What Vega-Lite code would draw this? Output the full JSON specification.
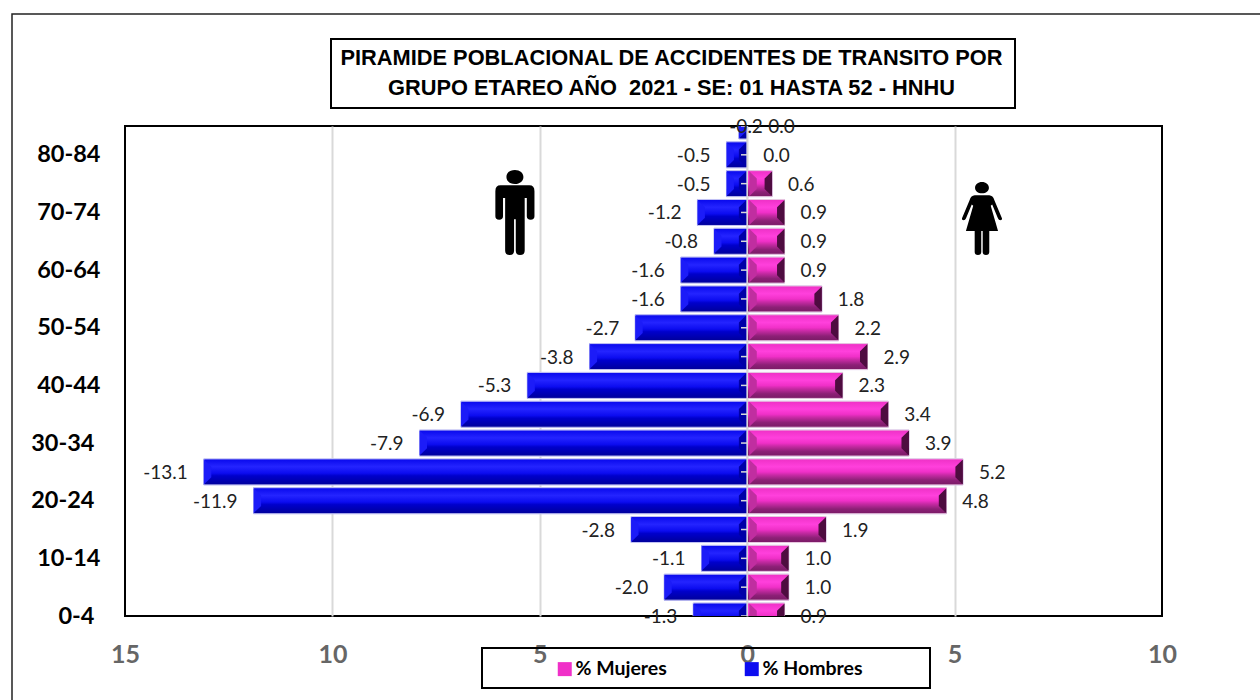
{
"$schema":"https://vega.github.io/schema/vega-lite/v6.json",
"width":1037,"height":490,
"autosize":{"type":"none"},
"padding":{"left":125,"top":126,"right":98,"bottom":84},
"background":"white",
"config":{"view":{"stroke":"#000","strokeWidth":2},"locale":{"number":{"decimal":".","thousands":",","grouping":[3],"currency":["$",""],"minus":"-"}}},
"title":{"text":["PIRAMIDE POBLACIONAL DE ACCIDENTES DE TRANSITO POR","GRUPO ETAREO AÑO \u00a02021 - SE: 01 HASTA 52 - HNHU"],"font":"Liberation Sans","fontSize":21.8,"fontWeight":"bold","color":"#000","anchor":"middle","dx":28,"offset":-87,"lineHeight":30},
"data":{"values":[
{"age":"0-4","sex":"% Hombres","value":-1.3},{"age":"0-4","sex":"% Mujeres","value":0.9},
{"age":"5-9","sex":"% Hombres","value":-2.0},{"age":"5-9","sex":"% Mujeres","value":1.0},
{"age":"10-14","sex":"% Hombres","value":-1.1},{"age":"10-14","sex":"% Mujeres","value":1.0},
{"age":"15-19","sex":"% Hombres","value":-2.8},{"age":"15-19","sex":"% Mujeres","value":1.9},
{"age":"20-24","sex":"% Hombres","value":-11.9},{"age":"20-24","sex":"% Mujeres","value":4.8},
{"age":"25-29","sex":"% Hombres","value":-13.1},{"age":"25-29","sex":"% Mujeres","value":5.2},
{"age":"30-34","sex":"% Hombres","value":-7.9},{"age":"30-34","sex":"% Mujeres","value":3.9},
{"age":"35-39","sex":"% Hombres","value":-6.9},{"age":"35-39","sex":"% Mujeres","value":3.4},
{"age":"40-44","sex":"% Hombres","value":-5.3},{"age":"40-44","sex":"% Mujeres","value":2.3},
{"age":"45-49","sex":"% Hombres","value":-3.8},{"age":"45-49","sex":"% Mujeres","value":2.9},
{"age":"50-54","sex":"% Hombres","value":-2.7},{"age":"50-54","sex":"% Mujeres","value":2.2},
{"age":"55-59","sex":"% Hombres","value":-1.6},{"age":"55-59","sex":"% Mujeres","value":1.8},
{"age":"60-64","sex":"% Hombres","value":-1.6},{"age":"60-64","sex":"% Mujeres","value":0.9},
{"age":"65-69","sex":"% Hombres","value":-0.8},{"age":"65-69","sex":"% Mujeres","value":0.9},
{"age":"70-74","sex":"% Hombres","value":-1.2},{"age":"70-74","sex":"% Mujeres","value":0.9},
{"age":"75-79","sex":"% Hombres","value":-0.5},{"age":"75-79","sex":"% Mujeres","value":0.6},
{"age":"80-84","sex":"% Hombres","value":-0.5},{"age":"80-84","sex":"% Mujeres","value":0.0},
{"age":"85+","sex":"% Hombres","value":-0.2},{"age":"85+","sex":"% Mujeres","value":0.0}
]},
"encoding":{
"y":{"field":"age","type":"ordinal","sort":null,
"scale":{"type":"point","padding":0,"reverse":true,"domain":["0-4","5-9","10-14","15-19","20-24","25-29","30-34","35-39","40-44","45-49","50-54","55-59","60-64","65-69","70-74","75-79","80-84","85+"]},
"axis":{"title":null,"domain":false,"ticks":false,"grid":false,"labelFont":"Lato","labelFontSize":23.5,"labelFontWeight":"bold","labelColor":"#000","labelPadding":25,"labelOverlap":false,
"labelExpr":"indexof(['0-4','10-14','20-24','30-34','40-44','50-54','60-64','70-74','80-84'],datum.value)>=0?datum.value:''",
"encoding":{"labels":{"dx":{"condition":{"test":"indexof(['0-4','20-24','30-34'],datum.value)>=0","value":-6},"value":0}}}}}
},
"layer":[
{"mark":{"type":"bar","size":26,"clip":true,"stroke":"#c4c4f4","strokeWidth":1},
"encoding":{
"x":{"field":"value","type":"quantitative","scale":{"domain":[-15,10],"nice":false,"zero":false},
"axis":{"title":null,"values":[-15,-10,-5,0,5,10],"domain":false,"ticks":false,"grid":true,"gridColor":"#d9d9d9","gridWidth":2,"gridOpacity":{"condition":{"test":"datum.value==-15||datum.value==10","value":0},"value":1},"labelFont":"Lato","labelFontSize":25,"labelFontWeight":"bold","labelColor":"#666666","labelPadding":26,"labelExpr":"abs(datum.value)","labelFlush":false}},
"x2":{"datum":0},
"color":{"field":"sex","type":"nominal","scale":{"domain":["% Mujeres","% Hombres"],"range":["#f030c8","#0c0cf0"]},
"legend":{"title":null,"orient":"none","legendX":430,"legendY":533,"direction":"horizontal","columns":2,"columnPadding":75,"symbolType":"square","symbolSize":196,"symbolStrokeWidth":0,"symbolOpacity":1,"labelOffset":1,"labelFont":"Lato","labelFontSize":19.5,"labelFontWeight":"bold","labelColor":"#000","padding":0}}
}},
{"transform":[{"filter":"datum.sex==='% Mujeres'"}],
"mark":{"type":"bar","size":26,"clip":true,"stroke":"#e8c8e0","strokeWidth":1,"color":{"gradient":"linear","x1":0,"y1":0,"x2":0,"y2":1,"stops":[{"offset":0,"color":"#ee30c6"},{"offset":0.3,"color":"#ff40dc"},{"offset":0.5,"color":"#f030c8"},{"offset":0.62,"color":"#c82aa5"},{"offset":0.82,"color":"#8c2076"},{"offset":1,"color":"#7a1a66"}]}},
"encoding":{"x":{"field":"value","type":"quantitative"},"x2":{"datum":0}}},
{"transform":[{"filter":"datum.sex==='% Hombres'"}],
"mark":{"type":"bar","size":26,"clip":true,"stroke":"#c4c4f4","strokeWidth":1,"color":{"gradient":"linear","x1":0,"y1":0,"x2":0,"y2":1,"stops":[{"offset":0,"color":"#0808ec"},{"offset":0.3,"color":"#2424ff"},{"offset":0.55,"color":"#0c0cf0"},{"offset":0.65,"color":"#0000cc"},{"offset":1,"color":"#00009a"}]}},
"encoding":{"x":{"field":"value","type":"quantitative"},"x2":{"datum":0}}},
{"transform":[{"filter":"datum.sex==='% Mujeres' && datum.value>0"}],
"mark":{"type":"point","clip":true,"filled":true,"opacity":1,"strokeWidth":0,"size":625,"color":"#4e0c40","shape":"M0 -1L-.6 -.42L-.6 .42L0 1Z"},
"encoding":{"x":{"field":"value","type":"quantitative"}}},
{"transform":[{"filter":"datum.sex==='% Mujeres' && datum.value>0"}],
"mark":{"type":"point","clip":true,"filled":true,"opacity":1,"strokeWidth":0,"size":625,"color":"#c02ea0","shape":"M0 -1L.6 -.42L.6 .42L0 1Z"},
"encoding":{"x":{"datum":0.05}}},
{"transform":[{"filter":"datum.sex==='% Hombres'"}],
"mark":{"type":"point","clip":true,"filled":true,"opacity":1,"strokeWidth":0,"size":625,"color":"#0000a8","shape":"M0 -1L-.6 -.42L-.6 .42L0 1Z"},
"encoding":{"x":{"datum":-0.02}}},
{"transform":[{"filter":"datum.sex==='% Hombres'"}],
"mark":{"type":"point","clip":true,"filled":true,"opacity":1,"strokeWidth":0,"size":625,"color":"#1c1cf8","shape":"M0 -1L.6 -.42L.6 .42L0 1Z"},
"encoding":{"x":{"field":"value","type":"quantitative"}}},
{"data":{"values":[{"eje":"cero"}]},"mark":{"type":"rule","color":"#d9d9d9","strokeWidth":1.5},"encoding":{"x":{"datum":0},"y":null}},
{"transform":[{"filter":"datum.sex==='% Hombres'"}],
"mark":{"type":"rule","color":"#d9d9d9","strokeWidth":1.5,"clip":true},"encoding":{"x":{"datum":-0.15},"x2":{"datum":0}}},
{"transform":[{"filter":"datum.sex==='% Hombres' && datum.age!=='85+'"}],
"mark":{"type":"text","align":"right","baseline":"middle","dx":-16,"dy":1,"font":"Lato","fontSize":19,"color":"#222"},
"encoding":{"x":{"field":"value","type":"quantitative"},"text":{"field":"value","type":"quantitative","format":".1f"}}},
{"transform":[{"filter":"datum.sex==='% Mujeres' && datum.age!=='85+'"}],
"mark":{"type":"text","align":"left","baseline":"middle","dx":16,"dy":1,"font":"Lato","fontSize":19,"color":"#222"},
"encoding":{"x":{"field":"value","type":"quantitative"},"text":{"field":"value","type":"quantitative","format":".1f"}}},
{"transform":[{"filter":"datum.sex==='% Hombres' && datum.age==='85+'"}],
"mark":{"type":"text","align":"right","baseline":"middle","dx":24,"dy":1,"font":"Lato","fontSize":19,"color":"#222"},
"encoding":{"x":{"field":"value","type":"quantitative"},"text":{"field":"value","type":"quantitative","format":".1f"}}},
{"transform":[{"filter":"datum.sex==='% Mujeres' && datum.age==='85+'"}],
"mark":{"type":"text","align":"left","baseline":"middle","dx":21,"dy":1,"font":"Lato","fontSize":19,"color":"#222"},
"encoding":{"x":{"field":"value","type":"quantitative"},"text":{"field":"value","type":"quantitative","format":".1f"}}},
{"data":{"values":[{"icon":"hombre"}]},
"mark":{"type":"point","filled":true,"opacity":1,"color":"#000","size":7225,"strokeWidth":0,"shape":"M0 -1C.12 -1 .2 -.93 .2 -.835C.2 -.74 .12 -.67 0 -.67C-.12 -.67 -.2 -.74 -.2 -.835C-.2 -.93 -.12 -1 0 -1ZM-.34 -.64L.34 -.64Q.46 -.64 .46 -.5L.46 .09Q.46 .17 .37 .17Q.28 .17 .28 .09L.28 -.34L.23 -.34L.23 .9Q.23 1 .12 1Q.02 1 .02 .9L.02 .16L-.02 .16L-.02 .9Q-.02 1 -.12 1Q-.23 1 -.23 .9L-.23 -.34L-.28 -.34L-.28 .09Q-.28 .17 -.37 .17Q-.46 .17 -.46 .09L-.46 -.5Q-.46 -.64 -.34 -.64Z"},
"encoding":{"x":{"datum":-5.6},"y":{"datum":"70-74"}}},
{"data":{"values":[{"icon":"mujer"}]},
"mark":{"type":"point","filled":true,"opacity":1,"color":"#000","size":5329,"strokeWidth":0,"yOffset":6,"shape":"M0 -1C.11 -1 .19 -.93 .19 -.845C.19 -.76 .11 -.69 0 -.69C-.11 -.69 -.19 -.76 -.19 -.845C-.19 -.93 -.11 -1 0 -1ZM-.2 -.635L.2 -.635Q.3 -.63 .34 -.5L.55 0Q.56 .05 .5 .05Q.46 .05 .44 0L.28 -.38L.24 -.35L.44 .34L.2 .34L.2 .92Q.2 1 .11 1Q.02 1 .02 .92L.02 .34L-.02 .34L-.02 .92Q-.02 1 -.11 1Q-.2 1 -.2 .92L-.2 .34L-.44 .34L-.24 -.35L-.28 -.38L-.44 0Q-.46 .05 -.5 .05Q-.56 .05 -.55 0L-.34 -.5Q-.3 -.63 -.2 -.635Z"},
"encoding":{"x":{"datum":5.66},"y":{"datum":"70-74"}}},
{"data":{"values":[{"box":"titulo"}]},
"mark":{"type":"rect","fill":null,"stroke":"#000","strokeWidth":2,"clip":false},
"encoding":{"x":{"value":206},"x2":{"value":890},"y":{"value":-87},"y2":{"value":-18}}},
{"data":{"values":[{"box":"leyenda"}]},
"mark":{"type":"rect","fill":null,"stroke":"#000","strokeWidth":2,"clip":false},
"encoding":{"x":{"value":357},"x2":{"value":805},"y":{"value":522},"y2":{"value":562}}},
{"data":{"values":[{"box":"marco"}]},
"mark":{"type":"rect","fill":null,"stroke":"#222","strokeWidth":1.5,"clip":false},
"encoding":{"x":{"value":-113},"x2":{"value":1300},"y":{"value":-112},"y2":{"value":700}}}
]
}
